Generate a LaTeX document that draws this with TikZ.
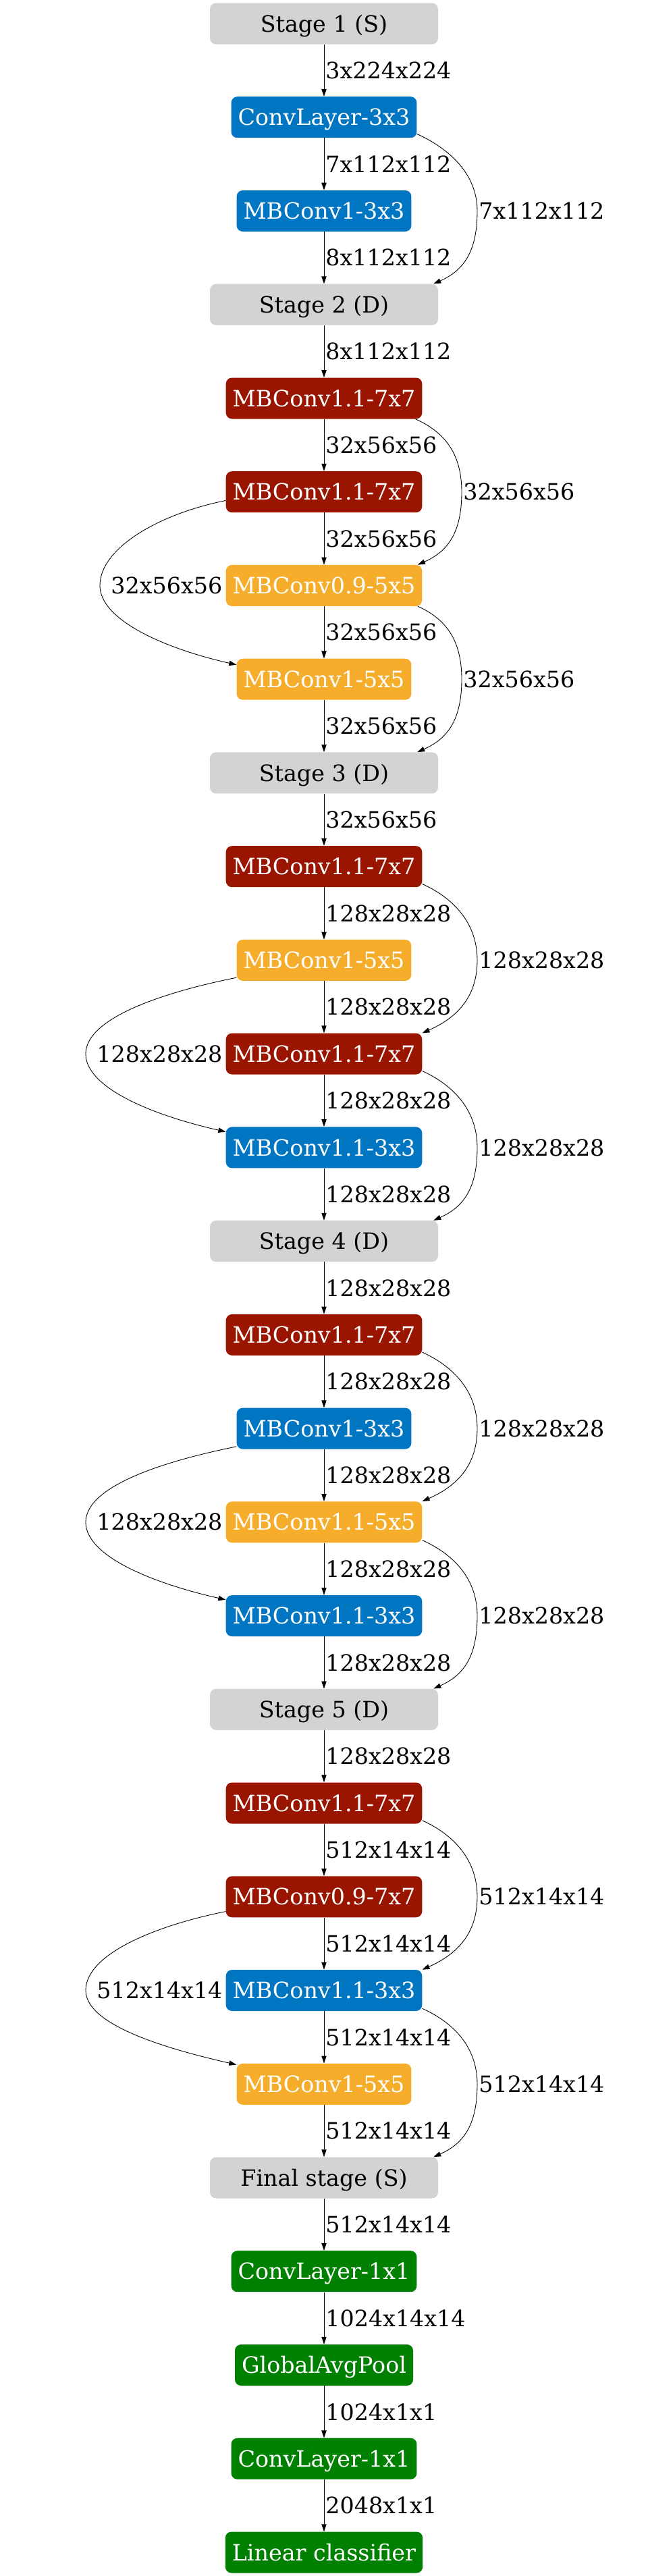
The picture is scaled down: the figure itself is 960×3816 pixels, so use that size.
\documentclass[tikz,border=0pt]{standalone}
\usepackage{fontspec}
\setmainfont{DejaVu Serif}
\usetikzlibrary{arrows.meta,calc}
\definecolor{cgray}{RGB}{211,211,211}
\definecolor{cblue}{RGB}{0,117,194}
\definecolor{cred}{RGB}{153,21,0}
\definecolor{corange}{RGB}{246,173,43}
\definecolor{cgreen}{RGB}{0,128,0}
\tikzset{
  base/.style={rectangle, rounded corners=6.75pt, minimum height=45.75pt,
    inner xsep=7.5pt, inner ysep=0pt, font=\fontsize{25pt}{30pt}\selectfont,
    text height=18.2pt, text depth=0pt},
  stagebox/.style={base, fill=cgray, text=black, minimum width=253.5pt},
  bluebox/.style={base, fill=cblue, text=white},
  redbox/.style={base, fill=cred, text=white},
  orangebox/.style={base, fill=corange, text=white},
  greenbox/.style={base, fill=cgreen, text=white},
  lab/.style={font=\fontsize{25pt}{30pt}\selectfont, text height=18.2pt,
    text depth=0pt, inner sep=0pt, text=black},
  edge/.style={line width=0.65pt, -{Triangle[length=8.25pt,width=5.5pt]}},
}
% right-hand skip connector: start, end, y of middle row, x of outermost point, label
\newcommand{\rcurve}[5]{%
  \draw[edge] #1 .. controls +(40,18) and +(0,-60) .. (#4,#3)
    node[lab,anchor=west,xshift=1.5pt]{#5}
    .. controls +(0,60) and +(45,-20) .. #2;}
% left-hand skip connector
\newcommand{\lcurve}[5]{%
  \draw[edge] #1 .. controls +(-100,20) and +(0,-55) .. (#4,#3)
    node[lab,anchor=west,xshift=12pt]{#5}
    .. controls +(0,50) and +(-110,-25) .. #2;}
\newcommand{\straight}[3]{%
  \draw[edge] (#1) -- node[lab,midway,anchor=west,xshift=1.5pt]{#3} (#2);}

\begin{document}
\begin{tikzpicture}[x=0.75pt,y=-0.75pt]
\useasboundingbox (0,0) rectangle (960,3816);

\node[stagebox]  (s1)  at (480,35)     {Stage 1 (S)};
\node[bluebox]   (c1)  at (480,173.7)  {ConvLayer-3x3};
\node[bluebox]   (m1)  at (480,312.5)  {MBConv1-3x3};
\node[stagebox]  (s2)  at (480,451.2)  {Stage 2 (D)};
\node[redbox]    (b2a) at (480,590.0)  {MBConv1.1-7x7};
\node[redbox]    (b2b) at (480,728.7)  {MBConv1.1-7x7};
\node[orangebox] (b2c) at (480,867.4)  {MBConv0.9-5x5};
\node[orangebox] (b2d) at (480,1006.2) {MBConv1-5x5};
\node[stagebox]  (s3)  at (480,1144.9) {Stage 3 (D)};
\node[redbox]    (b3a) at (480,1283.7) {MBConv1.1-7x7};
\node[orangebox] (b3b) at (480,1422.4) {MBConv1-5x5};
\node[redbox]    (b3c) at (480,1561.1) {MBConv1.1-7x7};
\node[bluebox]   (b3d) at (480,1699.9) {MBConv1.1-3x3};
\node[stagebox]  (s4)  at (480,1838.6) {Stage 4 (D)};
\node[redbox]    (b4a) at (480,1977.4) {MBConv1.1-7x7};
\node[bluebox]   (b4b) at (480,2116.1) {MBConv1-3x3};
\node[orangebox] (b4c) at (480,2254.8) {MBConv1.1-5x5};
\node[bluebox]   (b4d) at (480,2393.6) {MBConv1.1-3x3};
\node[stagebox]  (s5)  at (480,2532.3) {Stage 5 (D)};
\node[redbox]    (b5a) at (480,2671.0) {MBConv1.1-7x7};
\node[redbox]    (b5b) at (480,2809.8) {MBConv0.9-7x7};
\node[bluebox]   (b5c) at (480,2948.5) {MBConv1.1-3x3};
\node[orangebox] (b5d) at (480,3087.3) {MBConv1-5x5};
\node[stagebox]  (sf)  at (480,3226.0) {Final stage (S)};
\node[greenbox]  (f1)  at (480,3364.7) {ConvLayer-1x1};
\node[greenbox]  (f2)  at (480,3503.5) {GlobalAvgPool};
\node[greenbox]  (f3)  at (480,3642.2) {ConvLayer-1x1};
\node[greenbox]  (f4)  at (480,3781.0) {Linear classifier};

% stage 1
\straight{s1}{c1}{3x224x224}
\straight{c1}{m1}{7x112x112}
\straight{m1}{s2}{8x112x112}
\rcurve{([yshift=4.5pt]c1.south east)}{([xshift=-5.25pt]s2.north east)}{312.5}{707}{7x112x112}

% stage 2
\straight{s2}{b2a}{8x112x112}
\straight{b2a}{b2b}{32x56x56}
\straight{b2b}{b2c}{32x56x56}
\straight{b2c}{b2d}{32x56x56}
\straight{b2d}{s3}{32x56x56}
\rcurve{([xshift=-7.5pt]b2a.south east)}{([xshift=-5pt]b2c.north east)}{728.7}{684}{32x56x56}
\rcurve{([xshift=-5pt]b2c.south east)}{([xshift=-23.25pt]s3.north east)}{1006.2}{684}{32x56x56}
\lcurve{([yshift=13.5pt]b2b.south west)}{([yshift=-7pt]b2d.north west)}{867.4}{148}{32x56x56}

% stage 3
\straight{s3}{b3a}{32x56x56}
\straight{b3a}{b3b}{128x28x28}
\straight{b3b}{b3c}{128x28x28}
\straight{b3c}{b3d}{128x28x28}
\straight{b3d}{s4}{128x28x28}
\rcurve{([yshift=3.75pt]b3a.south east)}{(b3c.north east)}{1422.4}{707}{128x28x28}
\rcurve{([yshift=4pt]b3c.south east)}{([xshift=-5.25pt]s4.north east)}{1699.9}{707}{128x28x28}
\lcurve{([yshift=3.75pt]b3b.south west)}{([yshift=-5.6pt]b3d.north west)}{1561.1}{127}{128x28x28}

% stage 4
\straight{s4}{b4a}{128x28x28}
\straight{b4a}{b4b}{128x28x28}
\straight{b4b}{b4c}{128x28x28}
\straight{b4c}{b4d}{128x28x28}
\straight{b4d}{s5}{128x28x28}
\rcurve{([yshift=3.75pt]b4a.south east)}{(b4c.north east)}{2116.1}{707}{128x28x28}
\rcurve{([yshift=3pt]b4c.south east)}{([xshift=-5.25pt]s5.north east)}{2393.6}{707}{128x28x28}
\lcurve{([yshift=3pt]b4b.south west)}{([yshift=-5.25pt]b4d.north west)}{2254.8}{127}{128x28x28}

% stage 5
\straight{s5}{b5a}{128x28x28}
\straight{b5a}{b5b}{512x14x14}
\straight{b5b}{b5c}{512x14x14}
\straight{b5c}{b5d}{512x14x14}
\straight{b5d}{sf}{512x14x14}
\rcurve{([yshift=3.75pt]b5a.south east)}{(b5c.north east)}{2809.8}{707}{512x14x14}
\rcurve{([yshift=3pt]b5c.south east)}{([xshift=-5.25pt]sf.north east)}{3087.3}{707}{512x14x14}
\lcurve{([yshift=6.75pt]b5b.south west)}{([yshift=-1.5pt]b5d.north west)}{2948.5}{127}{512x14x14}

% final stage
\straight{sf}{f1}{512x14x14}
\straight{f1}{f2}{1024x14x14}
\straight{f2}{f3}{1024x1x1}
\straight{f3}{f4}{2048x1x1}
\end{tikzpicture}
\end{document}
